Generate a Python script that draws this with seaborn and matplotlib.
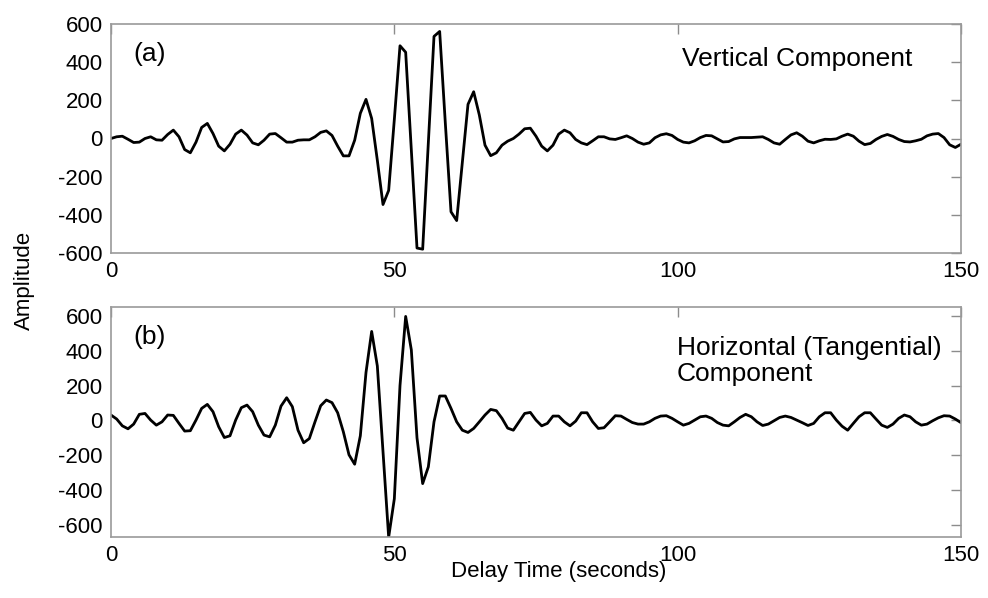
import numpy as np
import pandas as pd
import matplotlib
matplotlib.use("Agg")
import matplotlib.pyplot as plt
import seaborn as sns

# Delay time samples (1 s spacing)
delay_time = list(range(0, 151))

# Vertical component amplitude
vertical = [
    0, 9, 12, -4, -21, -19, 0, 9, -7, -9,
    21, 44, 9, -58, -75, -19, 58, 79, 26, -40,
    -65, -30, 23, 44, 18, -23, -33, -9, 23, 26,
    4, -19, -19, -9, -7, -7, 9, 32, 40, 16,
    -40, -91, -91, -9, 132, 205, 105, -114, -346, -272,
    100, 486, 452, -60, -574, -580, -26, 535, 561, 80,
    -384, -430, -125, 179, 245, 123, -35, -90, -75, -35,
    -14, 0, 23, 51, 54, 12, -40, -65, -35, 23,
    44, 30, -5, -23, -32, -12, 9, 9, -2, -5,
    4, 14, 0, -19, -30, -23, 4, 19, 25, 16,
    -5, -19, -23, -12, 5, 16, 14, -2, -18, -16,
    -2, 5, 5, 5, 7, 9, -5, -23, -30, -5,
    19, 30, 12, -14, -23, -12, -4, -5, -2, 12,
    23, 12, -14, -32, -26, -5, 11, 21, 11, -5,
    -16, -18, -12, -4, 14, 23, 26, 5, -33, -47,
    -30,
]

# Horizontal (tangential) component amplitude
horizontal = [
    31, 8, -31, -48, -21, 35, 40, 2, -27, -8,
    31, 29, -17, -61, -59, 2, 69, 92, 50, -36,
    -98, -88, 2, 73, 88, 50, -27, -84, -94, -27,
    82, 130, 79, -56, -128, -104, -8, 84, 117, 102,
    44, -65, -197, -251, -88, 275, 510, 312, -180, -669,
    -449, 200, 596, 404, -100, -362, -266, -8, 140, 140,
    69, -8, -56, -69, -46, -8, 31, 63, 56, 12,
    -44, -56, -8, 40, 46, 2, -31, -17, 25, 25,
    -8, -31, -4, 44, 44, -8, -46, -42, -8, 27,
    25, 6, -12, -21, -21, -8, 12, 25, 27, 12,
    -8, -27, -17, 2, 21, 25, 12, -12, -27, -31,
    -8, 17, 35, 21, -8, -29, -21, -2, 17, 25,
    17, 2, -13, -29, -17, 21, 44, 44, 2, -33,
    -56, -17, 21, 44, 44, 8, -27, -40, -21, 12,
    31, 21, -8, -27, -21, -2, 15, 27, 25, 8,
    -13,
]

x_ticks = [0, 50, 100, 150]
y_ticks = [-600, -400, -200, 0, 200, 400, 600]
panel_tags = ["(a)", "(b)"]
panel_titles = ["Vertical Component", "Horizontal (Tangential)\nComponent"]

sns.set_theme(style="white")
plt.rcParams["font.family"] = ["Liberation Sans", "DejaVu Sans"]
plt.rcParams["axes.unicode_minus"] = False
plt.rcParams["text.color"] = "black"

fig = plt.figure(figsize=(9.88, 5.98), dpi=100)
left, right = 111 / 988, 961 / 988
ax_a = fig.add_axes([left, 1 - 253 / 598, right - left, (253 - 24) / 598])
ax_b = fig.add_axes([left, 1 - 537 / 598, right - left, (537 - 307) / 598])

frames = [
    pd.DataFrame({"t": delay_time, "amp": vertical}),
    pd.DataFrame({"t": delay_time, "amp": horizontal}),
]
ylims = [(-600, 600), (-668, 650)]

for ax, df, ylim in zip([ax_a, ax_b], frames, ylims):
    sns.lineplot(data=df, x="t", y="amp", ax=ax, color="black",
                 linewidth=2.0, estimator=None, sort=False)
    ax.set_xlim(0, 150)
    ax.set_ylim(*ylim)
    ax.set_xticks(x_ticks)
    ax.set_yticks(y_ticks)
    ax.set_xlabel("")
    ax.set_ylabel("")
    ax.tick_params(axis="both", direction="in", length=7, width=1,
                   color="#8c8c8c", labelsize=16, labelcolor="black",
                   top=True, right=True)
    ax.tick_params(axis="y", pad=6)
    ax.tick_params(axis="x", pad=6)
    for sp in ax.spines.values():
        sp.set_visible(True)
        sp.set_color("#9a9a9a")
        sp.set_linewidth(1.2)

ax_a.text(0.026, 0.87, panel_tags[0], transform=ax_a.transAxes,
          fontsize=19, va="center", ha="left")
ax_a.text(0.672, 0.845, panel_titles[0], transform=ax_a.transAxes,
          fontsize=19, va="center", ha="left")
ax_b.text(0.026, 0.87, panel_tags[1], transform=ax_b.transAxes,
          fontsize=19, va="center", ha="left")
ax_b.text(0.666, 0.765, panel_titles[1], transform=ax_b.transAxes,
          fontsize=19, va="center", ha="left", linespacing=1.1)

fig.text(559 / 988, 1 - 572 / 598, "Delay Time (seconds)", fontsize=16,
         ha="center", va="center")
fig.text(24 / 988, 1 - 280 / 598, "Amplitude", fontsize=16, rotation=90,
         ha="center", va="center")

fig.savefig("out.png", dpi=100)
